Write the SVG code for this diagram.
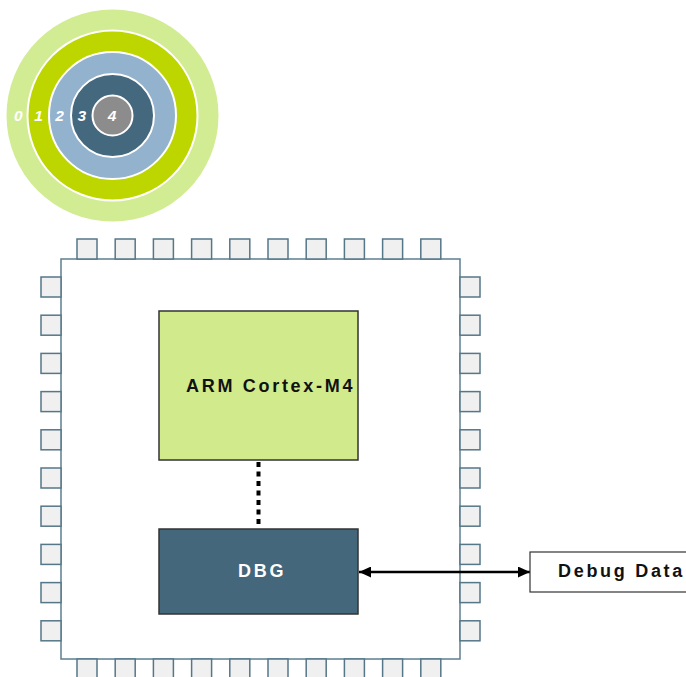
<svg xmlns="http://www.w3.org/2000/svg" width="686" height="677" viewBox="0 0 686 677">
<style>
.pin{fill:#F0F0F0;stroke:#557788;stroke-width:1.5}
.lbl{font-family:"Liberation Sans",Arial,sans-serif;font-weight:bold;font-size:18px;letter-spacing:2.7px}
.ring{stroke:#FFFFFF;stroke-width:2}
.num{font-family:"Liberation Sans",Arial,sans-serif;font-weight:bold;font-style:italic;font-size:15.5px;fill:#FFFFFF;text-anchor:middle}
</style>
<defs>
<marker id="ah" viewBox="0 0 12 11" refX="12" refY="5.5" markerWidth="12" markerHeight="11" markerUnits="userSpaceOnUse" orient="auto-start-reverse">
<path d="M0,0 L12,5.5 L0,11 Z" fill="#000"/>
</marker>
</defs>
<g id="rings">
<circle cx="112.5" cy="115.5" r="106" fill="#D2EC93"/>
<circle class="ring" cx="112.5" cy="115.5" r="85" fill="#BED600"/>
<circle class="ring" cx="112.5" cy="115.5" r="63.5" fill="#93B2CE"/>
<circle class="ring" cx="112.5" cy="115.5" r="41.5" fill="#44687D"/>
<circle class="ring" cx="112.5" cy="115.5" r="20" fill="#8C8C8C"/>
<text class="num" x="18.3" y="121">0</text>
<text class="num" x="38.5" y="121">1</text>
<text class="num" x="59.5" y="121">2</text>
<text class="num" x="81.7" y="121">3</text>
<text class="num" x="112" y="121">4</text>
</g>
<g id="chip">
<rect x="61" y="259" width="399" height="400" fill="#FFFFFF" stroke="#5D7F90" stroke-width="1.5"/>
<g id="pins-top">
<rect class="pin" x="77" y="239" width="20" height="20"/>
<rect class="pin" x="115.2" y="239" width="20" height="20"/>
<rect class="pin" x="153.4" y="239" width="20" height="20"/>
<rect class="pin" x="191.6" y="239" width="20" height="20"/>
<rect class="pin" x="229.8" y="239" width="20" height="20"/>
<rect class="pin" x="268" y="239" width="20" height="20"/>
<rect class="pin" x="306.2" y="239" width="20" height="20"/>
<rect class="pin" x="344.4" y="239" width="20" height="20"/>
<rect class="pin" x="382.6" y="239" width="20" height="20"/>
<rect class="pin" x="420.8" y="239" width="20" height="20"/>
</g>
<g id="pins-bottom">
<rect class="pin" x="77" y="659" width="20" height="20"/>
<rect class="pin" x="115.2" y="659" width="20" height="20"/>
<rect class="pin" x="153.4" y="659" width="20" height="20"/>
<rect class="pin" x="191.6" y="659" width="20" height="20"/>
<rect class="pin" x="229.8" y="659" width="20" height="20"/>
<rect class="pin" x="268" y="659" width="20" height="20"/>
<rect class="pin" x="306.2" y="659" width="20" height="20"/>
<rect class="pin" x="344.4" y="659" width="20" height="20"/>
<rect class="pin" x="382.6" y="659" width="20" height="20"/>
<rect class="pin" x="420.8" y="659" width="20" height="20"/>
</g>
<g id="pins-left">
<rect class="pin" x="41" y="277" width="20" height="20"/>
<rect class="pin" x="41" y="315.2" width="20" height="20"/>
<rect class="pin" x="41" y="353.4" width="20" height="20"/>
<rect class="pin" x="41" y="391.6" width="20" height="20"/>
<rect class="pin" x="41" y="429.8" width="20" height="20"/>
<rect class="pin" x="41" y="468" width="20" height="20"/>
<rect class="pin" x="41" y="506.2" width="20" height="20"/>
<rect class="pin" x="41" y="544.4" width="20" height="20"/>
<rect class="pin" x="41" y="582.6" width="20" height="20"/>
<rect class="pin" x="41" y="620.8" width="20" height="20"/>
</g>
<g id="pins-right">
<rect class="pin" x="460" y="277" width="20" height="20"/>
<rect class="pin" x="460" y="315.2" width="20" height="20"/>
<rect class="pin" x="460" y="353.4" width="20" height="20"/>
<rect class="pin" x="460" y="391.6" width="20" height="20"/>
<rect class="pin" x="460" y="429.8" width="20" height="20"/>
<rect class="pin" x="460" y="468" width="20" height="20"/>
<rect class="pin" x="460" y="506.2" width="20" height="20"/>
<rect class="pin" x="460" y="544.4" width="20" height="20"/>
<rect class="pin" x="460" y="582.6" width="20" height="20"/>
<rect class="pin" x="460" y="620.8" width="20" height="20"/>
</g>
</g>
<g id="connectors">
<line x1="258.5" y1="462" x2="258.5" y2="528" stroke="#000" stroke-width="4" stroke-dasharray="5 4.5"/>
<line x1="359" y1="572" x2="530" y2="572" stroke="#000" stroke-width="2.7" marker-start="url(#ah)" marker-end="url(#ah)"/>
</g>
<g id="arm">
<rect x="159" y="311" width="199" height="149" fill="#D0EA8C" stroke="#333" stroke-width="1.5"/>
<text class="lbl" x="186" y="392" fill="#111">ARM Cortex-M4</text>
</g>
<g id="dbg">
<rect x="159" y="529" width="199" height="85" fill="#44677B" stroke="#333" stroke-width="1.5"/>
<text class="lbl" x="238" y="577" fill="#FFFFFF">DBG</text>
</g>
<g id="debugdata">
<rect x="530" y="552" width="170" height="40" fill="#FFFFFF" stroke="#333" stroke-width="1.2"/>
<text class="lbl" x="558" y="577" fill="#111">Debug Data</text>
</g>
</svg>
